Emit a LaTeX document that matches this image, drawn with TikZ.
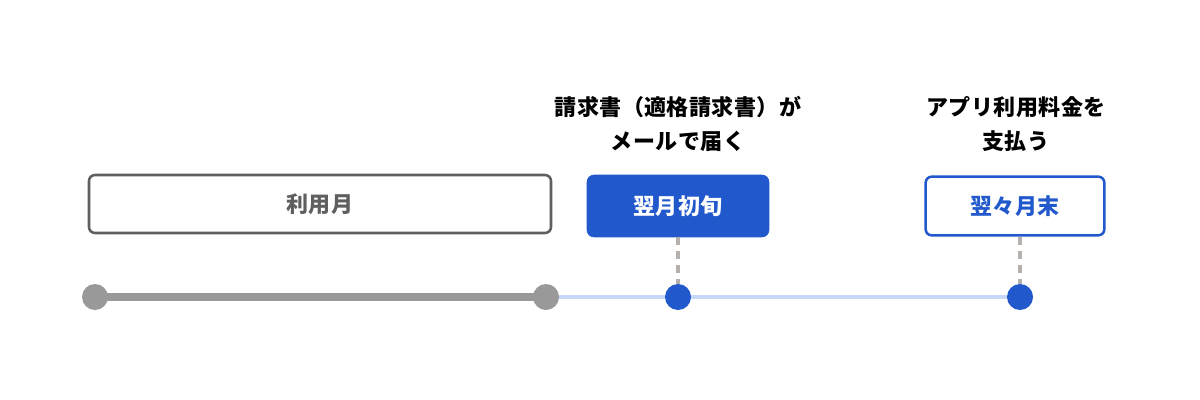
\documentclass[tikz,border=0pt]{standalone}
\usepackage{fontspec}
\newfontfamily\jp{Noto Sans CJK JP}[LetterSpace=2]
\usetikzlibrary{backgrounds}
\definecolor{mainblue}{HTML}{2158CB}
\definecolor{darkgray}{HTML}{5F5F5F}
\definecolor{linegray}{HTML}{999999}
\definecolor{lightblue}{HTML}{C6D8F8}
\definecolor{dashgray}{HTML}{B5B0AB}
\tikzset{
  jpfont/.style={font=\jp\bfseries\fontsize{16.5}{25.5}\selectfont},
  periodbox/.style={jpfont, rounded corners=4.5pt, line width=1.9pt, minimum height=43.5pt, inner sep=0pt},
  graybox/.style={periodbox, draw=darkgray, text=darkgray, fill=white, minimum width=346.5pt},
  bluefill/.style={periodbox, draw=mainblue, fill=mainblue, text=white, minimum width=135pt, minimum height=45pt},
  blueline/.style={periodbox, draw=mainblue, fill=white, text=mainblue, minimum width=134pt, minimum height=44pt},
  dot/.style={circle, minimum size=19.5pt, inner sep=0pt},
  graydot/.style={dot, fill=linegray},
  bluedot/.style={dot, fill=mainblue},
  label/.style={jpfont, align=center, text=black},
  guide/.style={draw=dashgray, line width=2.5pt, dash pattern=on 6pt off 4.5pt},
}
\begin{document}
\begin{tikzpicture}[x=0.75pt,y=-0.75pt]
\useasboundingbox (0,0) rectangle (1200,400);
\node[graybox] (use) at (320,204) {利用月};
\node[bluefill] (bill) at (678,206) {翌月初旬};
\node[blueline] (pay) at (1015,206) {翌々月末};
\node[label] (billtxt) at (678,124) {請求書（適格請求書）が\\メールで届く};
\node[label] (paytxt) at (1016,124) {アプリ利用料金を\\支払う};
\node[graydot] (d0) at (95,297) {};
\node[graydot] (d1) at (546,297) {};
\node[bluedot] (d2) at (678,297) {};
\node[bluedot] (d3) at (1020,297) {};
\begin{pgfonlayer}{background}
\draw[linegray, line width=6pt] (d0.center) -- (d1.center);
\draw[lightblue, line width=2.3pt] (d1.center) -- (d3.center);
\end{pgfonlayer}
\draw[guide] (bill.south) -- (d2.north);
\draw[guide] (pay.south -| d3) -- (d3.north);
\end{tikzpicture}
\end{document}
